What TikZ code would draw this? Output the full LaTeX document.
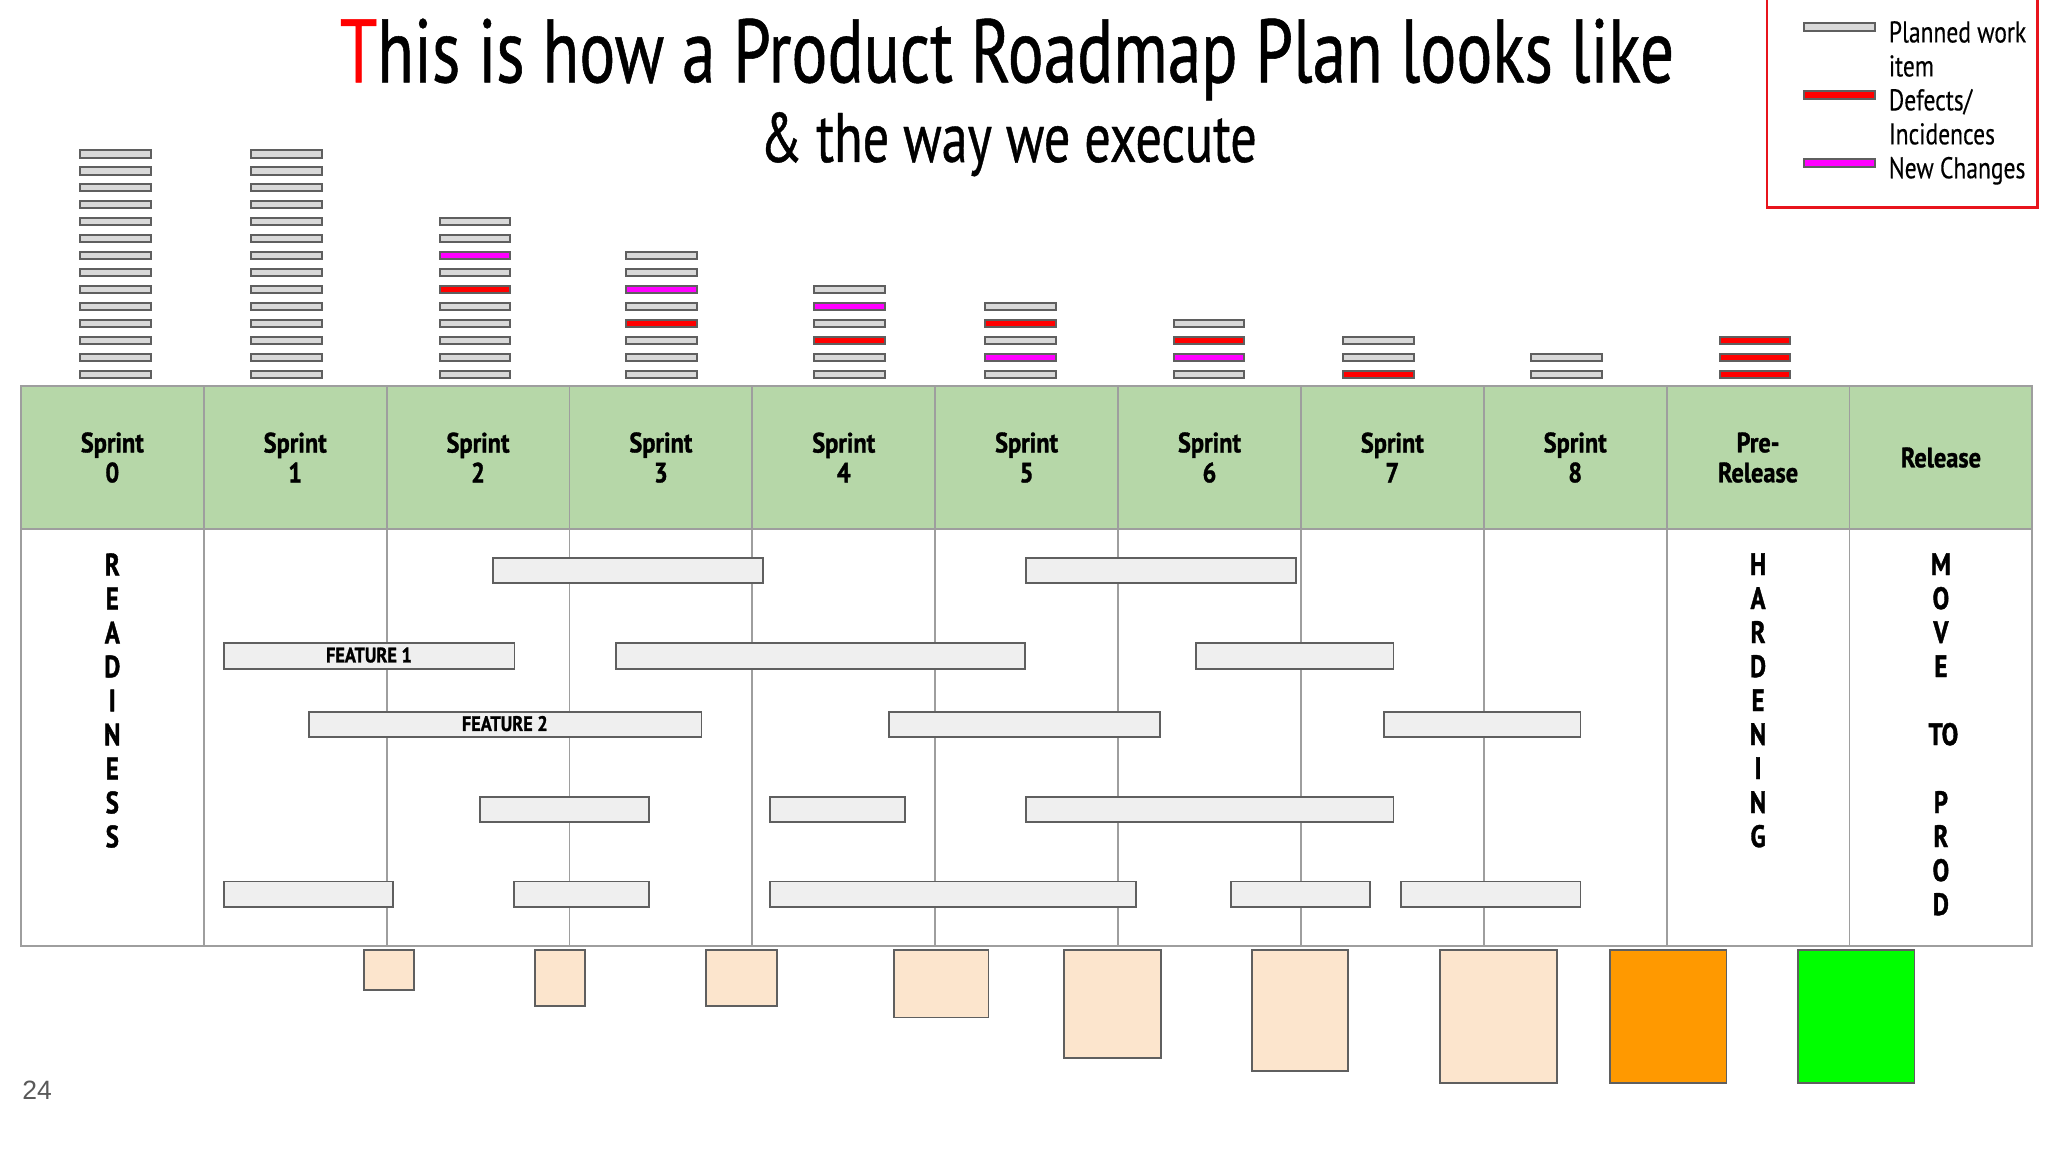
\documentclass[tikz,border=0pt]{standalone}
\usepackage{fontspec}
\setmainfont{Liberation Sans}
\newfontfamily\titlefont[FakeStretch=0.747,FakeBold=0.6]{PT Sans}
\newfontfamily\legendfont[FakeStretch=0.785,FakeBold=0.3]{PT Sans}
\newfontfamily\headfont[FakeStretch=0.87,FakeBold=1.2]{PT Sans Bold}
\newfontfamily\letterfont[FakeStretch=0.8,FakeBold=1.2]{PT Sans Bold}
\definecolor{headgreen}{HTML}{B6D7A8}
\definecolor{gridgray}{HTML}{9E9E9E}
\definecolor{edgegray}{HTML}{5F5F5F}
\definecolor{plangray}{HTML}{D9D9D9}
\definecolor{featgray}{HTML}{EFEFEF}
\definecolor{peach}{HTML}{FCE5CD}
\definecolor{legendred}{HTML}{E8141C}
\definecolor{pagenum}{HTML}{595959}
\definecolor{pureorange}{HTML}{FF9900}
\definecolor{puregreen}{HTML}{00FF00}
\definecolor{puremagenta}{HTML}{FF00FF}
\definecolor{purered}{HTML}{FF0000}
\tikzset{
  grid line/.style={draw=gridgray,line width=1.8pt},
  headcell/.style={rectangle,grid line,fill=headgreen,minimum width=182.86pt,minimum height=143.67pt,inner sep=0pt,align=center,font=\headfont\fontsize{28}{30}\selectfont},
  vertical text/.style={anchor=north,align=center,inner sep=0pt,font=\letterfont\fontsize{31}{34}\selectfont},
  work/.style={draw=edgegray,line width=2pt},
  plan/.style={work,fill=plangray},
  defect/.style={work,fill=purered},
  change/.style={work,fill=puremagenta},
  feature/.style={draw=edgegray,line width=1.7pt,fill=featgray},
  featlabel/.style={inner sep=0pt,font=\headfont\fontsize{21}{22}\selectfont},
  size box/.style={draw=edgegray,line width=1.8pt},
  legend text/.style={anchor=base west,inner sep=0pt,font=\legendfont\fontsize{30}{34}\selectfont}
}
% #1 left x, #2 centre y, #3 style
\newcommand{\workbar}[3]{\path[#3] (#1+0.5,#2-2.2) rectangle (#1+54.7,#2+3.6);}
\newcommand{\featbar}[3]{\path[feature] (#1+0.5,#3) rectangle (#2,#3+19.5);}
\newcommand{\sizebox}[4]{\path[size box,fill=#4] (#1+0.5,727.2) rectangle (#2-0.2,#3);}
\begin{document}
\begin{tikzpicture}[x=1.306122pt,y=-1.306122pt]
\useasboundingbox (0,0) rectangle (1568,882);
\fill[white] (0,0) rectangle (1568,882);

% title
\node[anchor=base,inner sep=0pt,font=\titlefont\fontsize{90}{90}\selectfont] (title) at (771,63) {\textcolor{purered}{T}his is how a Product Roadmap Plan looks like};
\node[anchor=base,inner sep=0pt,font=\titlefont\fontsize{70}{70}\selectfont] (subtitle) at (772,124) {\& the way we execute};

% legend
\draw[legendred,line width=2.4pt] (1353,0) -- (1353,159) -- (1560,159) -- (1560,0);
\path[plan] (1381.5,17.5) rectangle (1435.7,23.5);
\path[defect] (1381.5,70) rectangle (1435.7,76);
\path[change] (1381.5,122) rectangle (1435.7,128);
\node[legend text] (l1) at (1446,32.5) {Planned work};
\node[legend text] (l2) at (1446,58.5) {item};
\node[legend text] (l3) at (1446,84.5) {Defects/};
\node[legend text] (l4) at (1446,110.5) {Incidences};
\node[legend text] (l5) at (1446,136.5) {New Changes};

% stacks
\foreach \k in {0,...,13}{\workbar{61}{117+13*\k}{plan}\workbar{192}{117+13*\k}{plan}}
\foreach \y/\s in {169/plan,182/plan,195/change,208/plan,221/defect,234/plan,247/plan,260/plan,273/plan,286/plan}{\workbar{336}{\y}{\s}}
\foreach \y/\s in {195/plan,208/plan,221/change,234/plan,247/defect,260/plan,273/plan,286/plan}{\workbar{479}{\y}{\s}}
\foreach \y/\s in {221/plan,234/change,247/plan,260/defect,273/plan,286/plan}{\workbar{623}{\y}{\s}}
\foreach \y/\s in {234/plan,247/defect,260/plan,273/change,286/plan}{\workbar{754}{\y}{\s}}
\foreach \y/\s in {247/plan,260/defect,273/change,286/plan}{\workbar{898}{\y}{\s}}
\foreach \y/\s in {260/plan,273/plan,286/defect}{\workbar{1028}{\y}{\s}}
\foreach \y/\s in {273/plan,286/plan}{\workbar{1172}{\y}{\s}}
\foreach \y/\s in {260/defect,273/defect,286/defect}{\workbar{1316}{\y}{\s}}

% table body
\path[grid line] (16,405) rectangle (1556,724);
\foreach \i in {1,...,10}{\draw[grid line] (16+140*\i,405) -- (16+140*\i,724);}

% table header
\node[headcell] (s0) at (86,350.3) {Sprint\\0};
\node[headcell] (s1) at (226,350.3) {Sprint\\1};
\node[headcell] (s2) at (366,350.3) {Sprint\\2};
\node[headcell] (s3) at (506,350.3) {Sprint\\3};
\node[headcell] (s4) at (646,350.3) {Sprint\\4};
\node[headcell] (s5) at (786,350.3) {Sprint\\5};
\node[headcell] (s6) at (926,350.3) {Sprint\\6};
\node[headcell] (s7) at (1066,350.3) {Sprint\\7};
\node[headcell] (s8) at (1206,350.3) {Sprint\\8};
\node[headcell] (s9) at (1346,350.3) {Pre-\\Release};
\node[headcell] (s10) at (1486,350.3) {Release};

% vertical words
\node[vertical text] (readiness) at (86,423.5) {R\\E\\A\\D\\I\\N\\E\\S\\S};
\node[vertical text] (hardening) at (1346,423.5) {H\\A\\R\\D\\E\\N\\I\\N\\G};
\node[vertical text] (movetoprod) at (1486,423.5) {M\\O\\V\\E\\~\\\hspace{5pt}TO\\~\\P\\R\\O\\D};

% feature bars
\featbar{377}{584}{427}\featbar{785}{992}{427}
\featbar{171}{394}{492.5}\featbar{471}{785}{492.5}\featbar{915}{1067}{492.5}
\featbar{236}{537}{545}\featbar{680}{888}{545}\featbar{1059}{1210}{545}
\featbar{367}{497}{610}\featbar{589}{693}{610}\featbar{785}{1067}{610}
\featbar{171}{301}{675}\featbar{393}{497}{675}\featbar{589}{870}{675}\featbar{942}{1049}{675}\featbar{1072}{1210}{675}
\node[featlabel] (f1) at (282.5,501.5) {FEATURE 1};
\node[featlabel] (f2) at (386.5,554) {FEATURE 2};

% size boxes
\sizebox{278}{317}{758}{peach}
\sizebox{409}{448}{770}{peach}
\sizebox{540}{595}{770}{peach}
\sizebox{684}{757}{779}{peach}
\sizebox{814}{889}{810}{peach}
\sizebox{958}{1032}{820}{peach}
\sizebox{1102}{1192}{829}{peach}
\sizebox{1232}{1322}{829}{pureorange}
\sizebox{1376}{1466}{829}{puregreen}

% page number
\node[anchor=base west,inner sep=0pt,text=pagenum,font=\fontsize{26.5}{30}\selectfont] (page) at (17,842) {24};
\end{tikzpicture}
\end{document}
